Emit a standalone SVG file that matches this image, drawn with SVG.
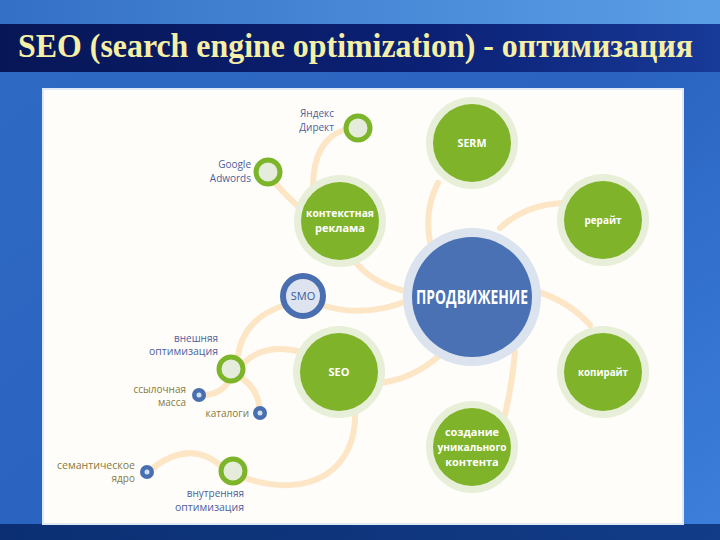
<svg xmlns="http://www.w3.org/2000/svg" width="720" height="540" viewBox="0 0 720 540">
<defs>
<linearGradient id="bg" x1="0" y1="0" x2="1" y2="1">
<stop offset="0" stop-color="#2f6bc4"/>
<stop offset="0.5" stop-color="#2a63c0"/>
<stop offset="1" stop-color="#3d7fdc"/>
</linearGradient>
<linearGradient id="top" x1="0" y1="0" x2="1" y2="0">
<stop offset="0" stop-color="#3470c6"/>
<stop offset="1" stop-color="#5b9fe6"/>
</linearGradient>
<linearGradient id="band" x1="0" y1="0" x2="1" y2="0">
<stop offset="0" stop-color="#071656"/>
<stop offset="0.6" stop-color="#0b2175"/>
<stop offset="1" stop-color="#183a98"/>
</linearGradient>
<linearGradient id="bottom" x1="0" y1="0" x2="1" y2="0">
<stop offset="0" stop-color="#0b2f72"/>
<stop offset="1" stop-color="#123c88"/>
</linearGradient>
<style>
.con{fill:none;stroke:#fde6c6;stroke-width:6;stroke-linecap:round}
.halo-g{fill:#e7efd9}
.halo-b{fill:#dbe3ee}
.g{fill:#7fb32a}
.b{fill:#4a71b3}
.ring{fill:#e6ecdc;stroke:#7cb52a;stroke-width:5}
.dot{fill:#4a6fb0}
.doti{fill:#cfe0f4}
.nt{font-family:"Open Sans","DejaVu Sans",sans-serif;font-weight:bold;fill:#ffffff;text-anchor:middle}
.lb{font-family:"Open Sans","DejaVu Sans",sans-serif;font-size:10px;fill:#4d5f9c;text-anchor:end}
.lo{font-family:"Open Sans","DejaVu Sans",sans-serif;font-size:10px;fill:#847a3c;text-anchor:end}
</style>
</defs>
<rect x="0" y="0" width="720" height="540" fill="url(#bg)"/>
<rect x="0" y="0" width="720" height="24" fill="url(#top)"/>
<rect x="0" y="24" width="720" height="48" fill="url(#band)"/>
<rect x="0" y="524" width="720" height="16" fill="url(#bottom)"/>
<text x="18" y="57" font-family="'Liberation Serif','Times New Roman',serif" font-weight="bold" font-size="33" fill="#f6f0a6" textLength="675" lengthAdjust="spacingAndGlyphs">SEO (search engine optimization) - оптимизация</text>
<rect x="42" y="88" width="642" height="437" fill="#dfe9f5"/>
<rect x="44" y="90" width="638" height="433" fill="#fffdfa"/>

<g id="connectors">
<path class="con" d="M438,183 Q424,210 430,242"/>
<path class="con" d="M500,228 Q525,205 562,203"/>
<path class="con" d="M344,130 Q314,140 313,185"/>
<path class="con" d="M276,184 Q290,200 305,212"/>
<path class="con" d="M352,258 Q372,285 410,292"/>
<path class="con" d="M325,306 Q365,318 410,300"/>
<path class="con" d="M285,305 Q244,318 238,355"/>
<path class="con" d="M245,362 Q265,343 302,352"/>
<path class="con" d="M206,395 Q222,393 228,382"/>
<path class="con" d="M242,378 Q258,390 259,406"/>
<path class="con" d="M378,383 Q412,380 440,355"/>
<path class="con" d="M355,410 C358,470 310,500 245,478"/>
<path class="con" d="M220,465 Q190,440 153,468"/>
<path class="con" d="M532,290 Q568,300 590,325"/>
<path class="con" d="M515,352 Q512,385 505,415"/>
</g>

<g id="n-prodvizhenie">
<circle cx="472" cy="297" r="69" class="halo-b"/>
<circle cx="472" cy="297" r="60" class="b"/>
<text x="472" y="304" class="nt" font-size="19" textLength="112" lengthAdjust="spacingAndGlyphs">ПРОДВИЖЕНИЕ</text>
</g>
<g id="n-serm">
<circle cx="472" cy="143" r="46" class="halo-g"/>
<circle cx="472" cy="143" r="39" class="g"/>
<text x="472" y="147" class="nt" font-size="11" textLength="29" lengthAdjust="spacingAndGlyphs">SERM</text>
</g>
<g id="n-rerait">
<circle cx="603" cy="220" r="46" class="halo-g"/>
<circle cx="603" cy="220" r="39" class="g"/>
<text x="603" y="224" class="nt" font-size="11" textLength="37" lengthAdjust="spacingAndGlyphs">рерайт</text>
</g>
<g id="n-kontekst">
<circle cx="340" cy="221" r="46" class="halo-g"/>
<circle cx="340" cy="221" r="39" class="g"/>
<text x="340" y="217" class="nt" font-size="11" textLength="68" lengthAdjust="spacingAndGlyphs">контекстная</text>
<text x="340" y="232" class="nt" font-size="11">реклама</text>
</g>
<g id="n-smo">
<circle cx="303" cy="296" r="20" fill="#dde4ef" stroke="#4a6fb0" stroke-width="6"/>
<text x="303" y="300" font-family="'Open Sans','DejaVu Sans',sans-serif" font-size="11" fill="#3b5a9a" text-anchor="middle">SMO</text>
</g>
<g id="n-seo">
<circle cx="339" cy="372" r="46" class="halo-g"/>
<circle cx="339" cy="372" r="39" class="g"/>
<text x="339" y="376" class="nt" font-size="11">SEO</text>
</g>
<g id="n-kopirait">
<circle cx="603" cy="372" r="46" class="halo-g"/>
<circle cx="603" cy="372" r="39" class="g"/>
<text x="603" y="376" class="nt" font-size="11" textLength="50" lengthAdjust="spacingAndGlyphs">копирайт</text>
</g>
<g id="n-sozdanie">
<circle cx="472" cy="447" r="46" class="halo-g"/>
<circle cx="472" cy="447" r="39" class="g"/>
<text x="472" y="436" class="nt" font-size="11">создание</text>
<text x="472" y="451" class="nt" font-size="11" textLength="69" lengthAdjust="spacingAndGlyphs">уникального</text>
<text x="472" y="466" class="nt" font-size="11">контента</text>
</g>
<g id="n-yandex">
<circle cx="358" cy="128" r="12" class="ring"/>
<text x="334" y="117" class="lb" font-size="11">Яндекс</text>
<text x="334" y="131" class="lb" font-size="11">Директ</text>
</g>
<g id="n-google">
<circle cx="268" cy="172" r="12" class="ring"/>
<text x="251" y="168" class="lb" font-size="12">Google</text>
<text x="251" y="182" class="lb" font-size="12">Adwords</text>
</g>
<g id="n-vneshnyaya">
<circle cx="231" cy="369" r="12" class="ring"/>
<text x="218" y="342" class="lb">внешняя</text>
<text x="218" y="355" class="lb" textLength="69" lengthAdjust="spacingAndGlyphs">оптимизация</text>
</g>
<g id="n-ssylochnaya">
<circle cx="199" cy="395" r="7" class="dot"/>
<circle cx="199" cy="395" r="2.5" class="doti"/>
<text x="186" y="393" class="lo">ссылочная</text>
<text x="186" y="406" class="lo">масса</text>
</g>
<g id="n-katalogi">
<circle cx="260" cy="413" r="7" class="dot"/>
<circle cx="260" cy="413" r="2.5" class="doti"/>
<text x="249" y="417" class="lo">каталоги</text>
</g>
<g id="n-semantich">
<circle cx="147" cy="472" r="7" class="dot"/>
<circle cx="147" cy="472" r="2.5" class="doti"/>
<text x="135" y="469" class="lo" textLength="78" lengthAdjust="spacingAndGlyphs">семантическое</text>
<text x="135" y="482" class="lo">ядро</text>
</g>
<g id="n-vnutrennyaya">
<circle cx="233" cy="471" r="12" class="ring"/>
<text x="244" y="497" class="lb">внутренняя</text>
<text x="244" y="511" class="lb" textLength="69" lengthAdjust="spacingAndGlyphs">оптимизация</text>
</g>
</svg>
